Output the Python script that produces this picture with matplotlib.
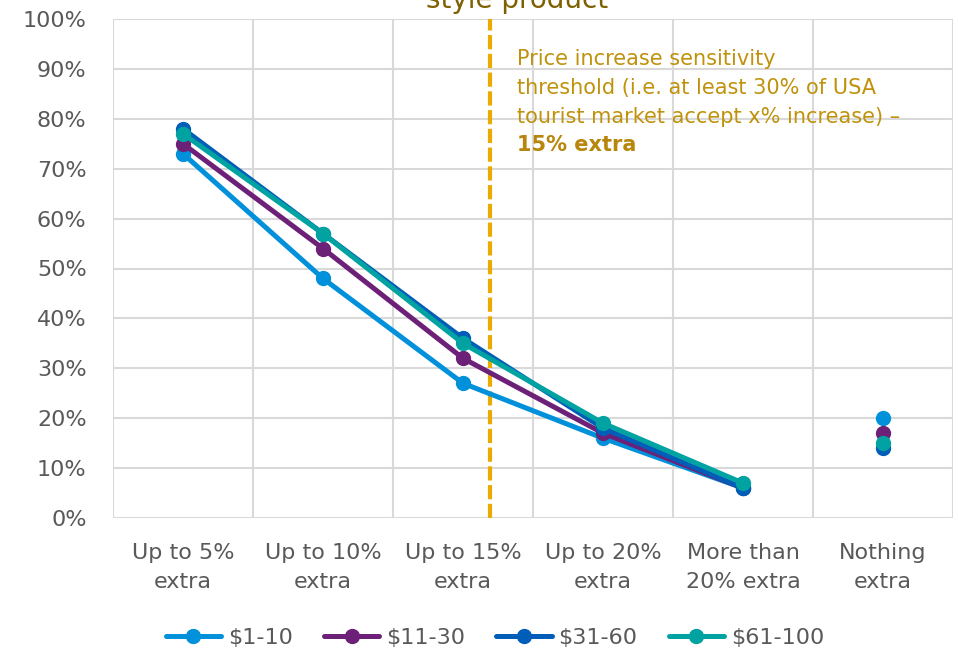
import matplotlib
matplotlib.use("Agg")
import matplotlib.pyplot as plt
import numpy as np

plt.rcParams['font.family'] = ['DejaVu Sans']

categories = ["Up to 5%\nextra", "Up to 10%\nextra", "Up to 15%\nextra",
              "Up to 20%\nextra", "More than\n20% extra", "Nothing\nextra"]
series_names = ["$1-10", "$11-30", "$31-60", "$61-100"]
vals_1_10 = [73, 48, 27, 16, 6, 20]
vals_11_30 = [75, 54, 32, 17, 6, 17]
vals_31_60 = [78, 57, 36, 18, 6, 14]
vals_61_100 = [77, 57, 35, 19, 7, 15]
y_ticks = [0, 10, 20, 30, 40, 50, 60, 70, 80, 90, 100]
y_tick_labels = [f"{v}%" for v in y_ticks]

series_vals = [vals_1_10, vals_11_30, vals_31_60, vals_61_100]
colors = ["#0091DA", "#6D2077", "#005EB8", "#00A3A1"]

grey_text = "#595959"
grid_col = "#D9D9D9"
gold = "#EAAA00"
note_col = "#C0920C"

fig = plt.figure(figsize=(9.59, 6.52), dpi=100)
ax = fig.add_axes([113 / 959, 1 - 518 / 652, 840 / 959, 499 / 652])

x = np.arange(len(categories))
n_line = len(categories) - 1  # last category stands alone, not joined by a line

for name, vals, col in zip(series_names, series_vals, colors):
    ax.plot(x[:n_line], vals[:n_line], color=col, lw=3.6, marker='o',
            markersize=10, solid_capstyle='round', label=name, zorder=3)
    ax.plot(x[n_line:], vals[n_line:], color=col, lw=0, marker='o',
            markersize=10, zorder=3)

ax.set_xlim(-0.5, len(categories) - 0.5)
ax.set_ylim(0, 100)
ax.set_yticks(y_ticks)
ax.set_yticklabels(y_tick_labels)
ax.set_xticks(x)
ax.set_xticklabels(categories, linespacing=1.55)
ax.set_xticks(np.arange(-0.5, len(categories)), minor=True)

ax.grid(axis='y', which='major', color=grid_col, lw=1.5, zorder=0)
ax.grid(axis='x', which='minor', color=grid_col, lw=1.5, zorder=0)
ax.tick_params(axis='both', which='both', length=0, labelsize=16,
               labelcolor=grey_text)
ax.tick_params(axis='y', pad=19)
ax.tick_params(axis='x', pad=18)
for s in ax.spines.values():
    s.set_visible(False)

# Price sensitivity threshold marker
threshold_pos = 2.19
ax.axvline(threshold_pos, color=gold, lw=3, dashes=(3.4, 1.1), zorder=2)

note_x = (517 - 113) / 840
note_lines = ["Price increase sensitivity",
              "threshold (i.e. at least 30% of USA",
              "tourist market accept x% increase) \u2013"]
note_baselines = [65, 94, 123]
for line, yb in zip(note_lines, note_baselines):
    ax.text(note_x, (518 - yb) / 499, line, transform=ax.transAxes,
            ha='left', va='baseline', fontsize=15, color=note_col)
ax.text(note_x, (518 - 151) / 499, "15% extra", transform=ax.transAxes,
        ha='left', va='baseline', fontsize=15, fontweight='bold',
        color="#B8860B")

fig.text(517 / 959, 1 - 8 / 652, "style product", ha='center', va='baseline',
         fontsize=20, color="#7F6000")

fig.legend(loc='center', bbox_to_anchor=(0.516, 1 - 638 / 652), ncol=4,
           frameon=False, fontsize=16, handlelength=2.5, handletextpad=0.3,
           columnspacing=1.4, labelcolor=grey_text, borderpad=0)

fig.savefig("out.png", dpi=100)
